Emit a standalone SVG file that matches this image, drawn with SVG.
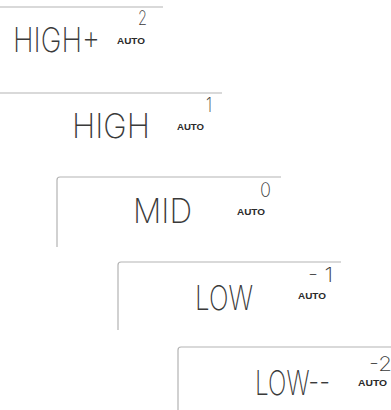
<svg xmlns="http://www.w3.org/2000/svg" width="391" height="410" viewBox="0 0 391 410">
<style>
.frame{fill:none;stroke:#b3b3b3;stroke-width:1.2}
.seg{font-family:Inter,"DejaVu Sans",sans-serif;font-weight:200;font-size:34px;fill:#3a3a3a}
.dig{font-family:Inter,"DejaVu Sans",sans-serif;font-weight:200;font-size:20px;fill:#3a3a3a}
.auto{font-family:"Liberation Sans",Arial,sans-serif;font-weight:bold;font-size:9.5px;fill:#2a2a2a}
</style>
<rect width="391" height="410" fill="#ffffff"/>
<g id="panel-high-plus">
<path class="frame" d="M0,7 H163"/>
<text class="seg" x="13" y="52" textLength="87" lengthAdjust="spacingAndGlyphs">HIGH+</text>
<text class="auto" x="117" y="44" textLength="28" lengthAdjust="spacingAndGlyphs">AUTO</text>
<text class="dig" x="138" y="25" textLength="9" lengthAdjust="spacingAndGlyphs">2</text>
</g>
<g id="panel-high">
<path class="frame" d="M0,93 H222"/>
<text class="seg" x="72" y="138" textLength="78" lengthAdjust="spacingAndGlyphs">HIGH</text>
<text class="auto" x="177" y="130" textLength="27" lengthAdjust="spacingAndGlyphs">AUTO</text>
<text class="dig" x="206" y="112" textLength="6" lengthAdjust="spacingAndGlyphs">1</text>
</g>
<g id="panel-mid">
<path class="frame" d="M57,247 V180 Q57,177 60,177 H281"/>
<text class="seg" x="133" y="223" textLength="59" lengthAdjust="spacingAndGlyphs">MID</text>
<text class="auto" x="237" y="215" textLength="28" lengthAdjust="spacingAndGlyphs">AUTO</text>
<text class="dig" x="260" y="197" textLength="11" lengthAdjust="spacingAndGlyphs">0</text>
</g>
<g id="panel-low">
<path class="frame" d="M118,330 V265 Q118,262 121,262 H341"/>
<text class="seg" x="195" y="310" textLength="58" lengthAdjust="spacingAndGlyphs">LOW</text>
<text class="auto" x="298" y="299" textLength="28" lengthAdjust="spacingAndGlyphs">AUTO</text>
<text class="dig" x="308" y="282" textLength="25" lengthAdjust="spacingAndGlyphs">- 1</text>
</g>
<g id="panel-low-minus">
<path class="frame" d="M178,410 V350 Q178,347 181,347 H391"/>
<text class="seg" x="255" y="395" textLength="75" lengthAdjust="spacingAndGlyphs">LOW--</text>
<text class="auto" x="358" y="386" textLength="29" lengthAdjust="spacingAndGlyphs">AUTO</text>
<text class="dig" x="369" y="371" textLength="23" lengthAdjust="spacingAndGlyphs">-2</text>
</g>
</svg>
